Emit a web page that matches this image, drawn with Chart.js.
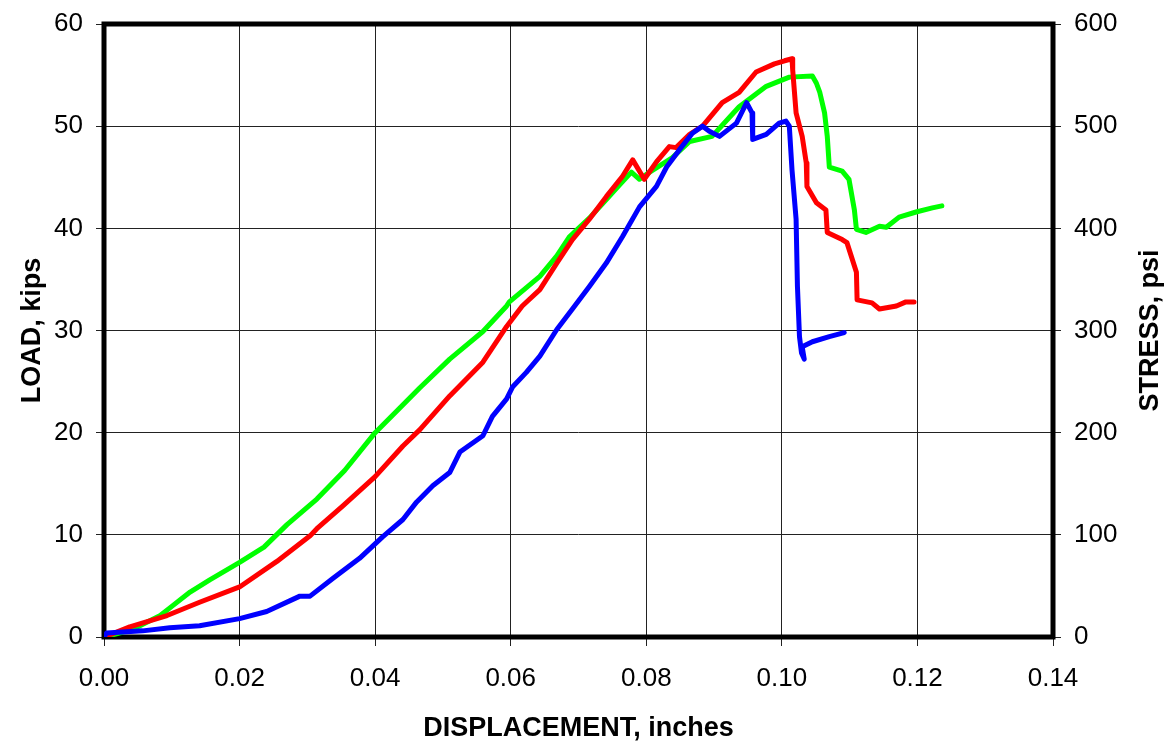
<!DOCTYPE html>
<html>
<head>
<meta charset="utf-8">
<script src="https://cdn.jsdelivr.net/npm/chart.js@4.4.0/dist/chart.umd.min.js"></script>
<style>
  html, body { margin: 0; padding: 0; background: #fff; }
  #wrap { width: 1172px; height: 747px; }
</style>
</head>
<body>
<div id="wrap"><canvas id="c" width="1172" height="747"></canvas></div>
<script>
// Load-displacement records for three specimens (displacement in inches, load in kips)
const dispGreen = [0, 0.0024, 0.005, 0.0083, 0.010, 0.0127, 0.0156, 0.020, 0.0236, 0.027, 0.0314, 0.0355, 0.040, 0.0436, 0.0466, 0.051, 0.0559, 0.0594, 0.0598, 0.0643, 0.0668, 0.0687, 0.0716, 0.0738, 0.076, 0.0778, 0.079, 0.0805, 0.0838, 0.0864, 0.0897, 0.0937, 0.0977, 0.1011, 0.1045, 0.1051, 0.1056, 0.1063, 0.1067, 0.1070, 0.1089, 0.1099, 0.1107, 0.1110, 0.1124, 0.1144, 0.1154, 0.1173, 0.1198, 0.1222, 0.1236];
const loadGreen = [0, 0.4, 1.0, 2.1, 3.0, 4.4, 5.6, 7.3, 8.8, 11.0, 13.5, 16.3, 20.0, 22.4, 24.4, 27.2, 29.9, 32.4, 32.8, 35.3, 37.3, 39.2, 41.0, 42.6, 44.2, 45.5, 44.8, 45.5, 46.9, 48.5, 49.0, 51.9, 53.9, 54.8, 54.9, 54.2, 53.3, 51.3, 49.0, 46.0, 45.6, 44.8, 41.8, 39.9, 39.6, 40.2, 40.1, 41.1, 41.6, 42.0, 42.2];

const dispRed = [0, 0.0016, 0.0038, 0.0093, 0.0141, 0.020, 0.0255, 0.0304, 0.0314, 0.0352, 0.040, 0.0441, 0.0466, 0.051, 0.0559, 0.0594, 0.0617, 0.0643, 0.0668, 0.0691, 0.0716, 0.0741, 0.0765, 0.078, 0.0797, 0.0815, 0.0834, 0.0844, 0.0864, 0.0883, 0.0912, 0.0937, 0.0962, 0.0989, 0.1004, 0.1015, 0.1016, 0.1021, 0.103, 0.1036, 0.1037, 0.1051, 0.1065, 0.1067, 0.1089, 0.1096, 0.111, 0.1111, 0.1133, 0.1144, 0.1169, 0.1183, 0.1195];
const loadRed = [0, 0.4, 1.0, 2.1, 3.4, 4.9, 7.4, 9.9, 10.6, 12.8, 15.7, 18.7, 20.3, 23.6, 26.9, 30.4, 32.4, 34.0, 36.6, 38.9, 40.9, 43.1, 45.1, 46.7, 44.8, 46.5, 48.0, 47.9, 49.2, 50.0, 52.3, 53.3, 55.3, 56.1, 56.4, 56.6, 55.5, 51.3, 49.0, 46.4, 44.1, 42.5, 41.8, 39.6, 38.9, 38.6, 35.7, 33.0, 32.7, 32.1, 32.4, 32.8, 32.8];

const dispBlue = [0, 0.0004, 0.0057, 0.0097, 0.0141, 0.020, 0.024, 0.0289, 0.0304, 0.0337, 0.0377, 0.0411, 0.0441, 0.0461, 0.0485, 0.051, 0.0525, 0.0559, 0.0573, 0.0594, 0.0603, 0.0623, 0.0643, 0.0668, 0.0691, 0.0716, 0.0741, 0.0765, 0.079, 0.0815, 0.083, 0.0849, 0.0868, 0.0883, 0.0893, 0.0908, 0.0933, 0.0948, 0.0956, 0.0957, 0.0977, 0.0996, 0.1006, 0.1011, 0.1015, 0.1021, 0.1023, 0.1026, 0.1029, 0.1033, 0.1030, 0.1045, 0.107, 0.1092];
const loadBlue = [0, 0.4, 0.6, 0.9, 1.1, 1.8, 2.5, 4.0, 4.0, 5.7, 7.7, 9.8, 11.5, 13.2, 14.8, 16.1, 18.1, 19.7, 21.6, 23.3, 24.5, 25.9, 27.5, 30.1, 32.1, 34.3, 36.6, 39.2, 42.1, 44.1, 46.0, 47.7, 49.3, 50.0, 49.5, 49.0, 50.3, 52.3, 51.3, 48.7, 49.2, 50.3, 50.5, 50.0, 45.7, 40.9, 34.3, 29.4, 27.8, 27.2, 28.4, 28.9, 29.4, 29.8];

// Axis ticks
const xTicks = [0, 0.02, 0.04, 0.06, 0.08, 0.10, 0.12, 0.14];
const loadTicks = [0, 10, 20, 30, 40, 50, 60];
const stressTicks = [0, 100, 200, 300, 400, 500, 600];

const xTitle = 'DISPLACEMENT, inches';
const yTitle = 'LOAD, kips';
const y2Title = 'STRESS, psi';

const FONT = "'Liberation Sans', Arial, Helvetica, sans-serif";

function toPoints(xs, ys) {
  return xs.map((x, i) => ({ x: x, y: ys[i] }));
}

function fixedTicks(values) {
  return function (scale) {
    scale.ticks = values.map(v => ({ value: v }));
  };
}

// Fixed sizes for the side axes so the plot area sits where it should
function sideFit(width) {
  return function (s) {
    s.width = width;
    s.paddingTop = 0;
    s.paddingBottom = 0;
  };
}

// Thick frame round the plot area, and the axis titles
const framePlugin = {
  id: 'frame',
  beforeDatasetsDraw(chart) {
    const { ctx, chartArea: a } = chart;
    ctx.save();
    ctx.strokeStyle = '#000';
    ctx.lineWidth = 5;
    ctx.strokeRect(a.left, a.top, a.right - a.left, a.bottom - a.top);
    ctx.restore();
  },
  afterDraw(chart) {
    const { ctx, chartArea: a } = chart;
    ctx.save();
    ctx.fillStyle = '#000';
    ctx.font = 'bold 27px ' + FONT;
    ctx.textAlign = 'center';
    ctx.textBaseline = 'middle';
    ctx.fillText(xTitle, (a.left + a.right) / 2, 729);
    const midY = (a.top + a.bottom) / 2;
    ctx.save();
    ctx.translate(33, midY);
    ctx.rotate(-Math.PI / 2);
    ctx.fillText(yTitle, 0, 0);
    ctx.restore();
    ctx.save();
    ctx.translate(1151, midY);
    ctx.rotate(-Math.PI / 2);
    ctx.fillText(y2Title, 0, 0);
    ctx.restore();
    ctx.restore();
  }
};

const lineStyle = {
  borderWidth: 5,
  pointRadius: 0,
  pointHoverRadius: 0,
  tension: 0,
  fill: false,
  borderJoinStyle: 'round',
  borderCapStyle: 'round'
};

new Chart(document.getElementById('c'), {
  type: 'line',
  data: {
    datasets: [
      Object.assign({ label: 'Blue', data: toPoints(dispBlue, loadBlue), borderColor: '#0000ff', backgroundColor: '#0000ff' }, lineStyle),
      Object.assign({ label: 'Red', data: toPoints(dispRed, loadRed), borderColor: '#ff0000', backgroundColor: '#ff0000' }, lineStyle),
      Object.assign({ label: 'Green', data: toPoints(dispGreen, loadGreen), borderColor: '#00ff00', backgroundColor: '#00ff00' }, lineStyle)
    ]
  },
  options: {
    responsive: false,
    animation: false,
    events: [],
    layout: { padding: { top: 24, left: 0, right: 0, bottom: 0 } },
    plugins: { legend: { display: false }, tooltip: { enabled: false } },
    scales: {
      x: {
        type: 'linear',
        min: 0, max: 0.14,
        afterBuildTicks: fixedTicks(xTicks),
        afterFit(s) { s.height = 110; s.paddingLeft = 0; s.paddingRight = 0; },
        border: { display: false },
        grid: { color: '#222', lineWidth: 1, tickLength: 9, drawTicks: true },
        ticks: {
          color: '#000',
          font: { family: FONT, size: 26 },
          padding: 17,
          maxRotation: 0,
          autoSkip: false,
          callback: v => Number(v).toFixed(2)
        }
      },
      y: {
        type: 'linear',
        position: 'left',
        min: 0, max: 60,
        afterBuildTicks: fixedTicks(loadTicks),
        afterFit: sideFit(104),
        border: { display: false },
        grid: { color: '#222', lineWidth: 1, tickLength: 8 },
        ticks: {
          color: '#000',
          font: { family: FONT, size: 26 },
          padding: 13,
          autoSkip: false,
          callback: v => String(v)
        }
      },
      y2: {
        type: 'linear',
        position: 'right',
        min: 0, max: 600,
        afterBuildTicks: fixedTicks(stressTicks),
        afterFit: sideFit(119),
        border: { display: false },
        grid: { drawOnChartArea: false, drawTicks: true, color: '#222', lineWidth: 1, tickLength: 8 },
        ticks: {
          color: '#000',
          font: { family: FONT, size: 26 },
          padding: 13,
          autoSkip: false,
          callback: v => String(v)
        }
      }
    }
  },
  plugins: [framePlugin]
});
</script>
</body>
</html>
